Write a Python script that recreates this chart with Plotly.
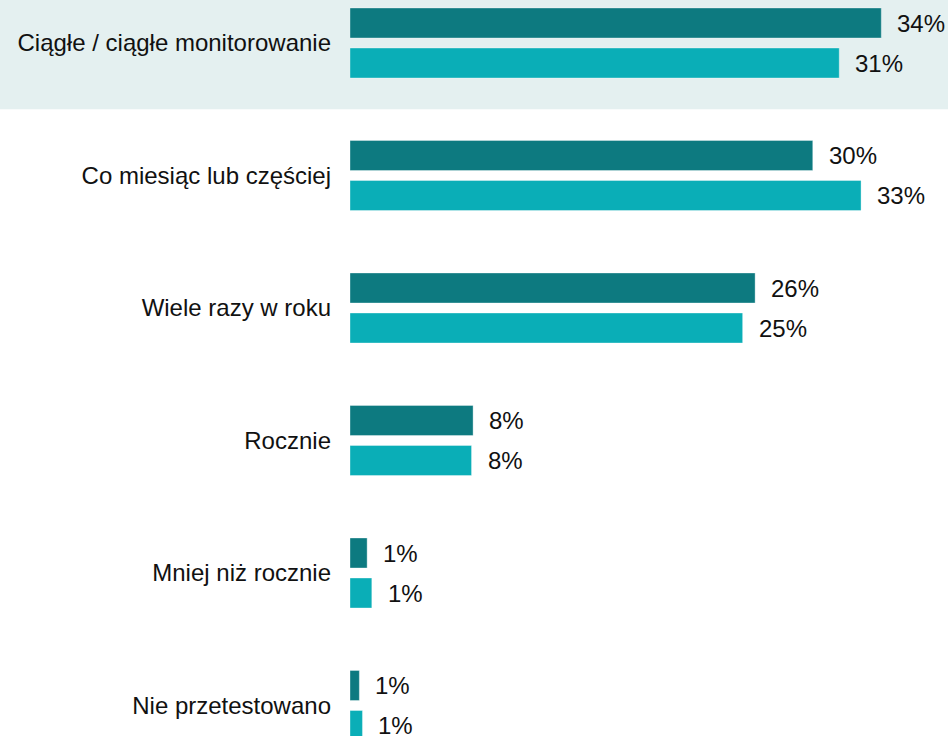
import plotly.graph_objects as go

# Testing frequency categories, top to bottom
categories = [
    "Ciągłe / ciągłe monitorowanie",
    "Co miesiąc lub częściej",
    "Wiele razy w roku",
    "Rocznie",
    "Mniej niż rocznie",
    "Nie przetestowano",
]
# Share of respondents (%), two survey series
series_a = [34.1, 29.7, 26.0, 7.9, 1.1, 0.6]
series_b = [31.4, 32.8, 25.2, 7.8, 1.4, 0.8]

dark = "#0d7a80"
light = "#0aaeb7"
band = "#e4f0f0"
font_family = "Liberation Sans, Arial, sans-serif"

fig = go.Figure()
for vals, col in [(series_a, dark), (series_b, light)]:
    fig.add_trace(go.Bar(
        x=vals, y=categories, orientation="h",
        marker=dict(color=col, line=dict(color="rgba(255,255,255,0.35)", width=1)),
        hoverinfo="skip",
    ))

# Value labels to the right of each bar
annotations = []
for vals, shift in [(series_a, 20), (series_b, -20)]:
    for cat, v in zip(categories, vals):
        annotations.append(dict(
            x=v, y=cat, xref="x", yref="y", text=f"{round(v)}%",
            showarrow=False, xanchor="left", yanchor="middle",
            xshift=14, yshift=shift,
            font=dict(size=24, color="#111111", family=font_family),
        ))

left_margin = 350
plot_width = 948 - left_margin

fig.update_layout(
    width=948, height=736,
    margin=dict(l=left_margin, r=0, t=0, b=0),
    paper_bgcolor="white", plot_bgcolor="white",
    barmode="group", bargap=0.396, bargroupgap=0.25,
    showlegend=False,
    font=dict(family=font_family, size=24, color="#111111"),
    annotations=annotations,
    shapes=[dict(
        type="rect", xref="paper", yref="y",
        x0=-left_margin / plot_width, x1=1, y0=-0.5, y1=0.5,
        fillcolor=band, line=dict(width=0), layer="below",
    )],
    xaxis=dict(range=[0, 38.38], visible=False, fixedrange=True),
    yaxis=dict(
        type="category", categoryorder="array", categoryarray=categories,
        range=[5.2302, -0.3245], showgrid=False, zeroline=False,
        showline=False, ticks="", ticklabelstandoff=18,
        tickfont=dict(size=24, color="#111111", family=font_family),
    ),
)

fig.write_html("out.html")
